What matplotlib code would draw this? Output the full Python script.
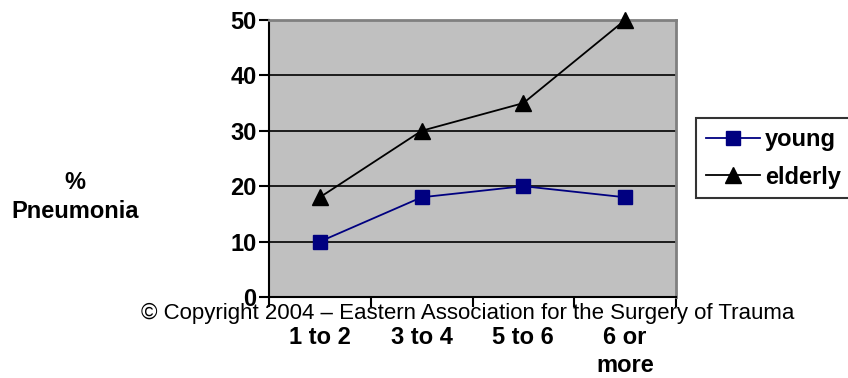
import matplotlib
matplotlib.use("Agg")
import matplotlib.pyplot as plt
import numpy as np

categories = ["1 to 2", "3 to 4", "5 to 6", "6 or\nmore"]
young = [10, 18, 20, 18]
elderly = [18, 30, 35, 50]
y_ticks = [0, 10, 20, 30, 40, 50]

plt.rcParams["font.family"] = ["Liberation Sans", "DejaVu Sans"]

fig = plt.figure(figsize=(8.48, 3.78), dpi=100)
ax = fig.add_axes([269 / 848, 1 - 297 / 378, 407 / 848, 277 / 378])
ax.set_facecolor("#C0C0C0")

x = np.arange(len(categories))
ax.set_xlim(-0.5, len(categories) - 0.5)
ax.set_ylim(0, 50)

for v in y_ticks[1:-1]:
    ax.axhline(v, color="black", lw=1.2, zorder=1)

ax.plot(x, young, color="#000080", lw=1.3, marker="s", ms=10,
        markerfacecolor="#000080", markeredgecolor="#000080", label="young", zorder=3, clip_on=False)
ax.plot(x, elderly, color="black", lw=1.3, marker="^", ms=11,
        markerfacecolor="black", markeredgecolor="black", label="elderly", zorder=3, clip_on=False)

ax.set_yticks(y_ticks)
ax.set_yticklabels([str(v) for v in y_ticks], fontsize=17, fontweight="bold")
ax.tick_params(axis="y", direction="out", length=7, width=1.5, pad=2)

ax.set_xticks(np.arange(-0.5, len(categories), 1.0))
ax.set_xticklabels([])
ax.tick_params(axis="x", direction="out", length=7, width=1.5)
for xi, lab in zip(x, categories):
    ax.text(xi, -0.104, lab, transform=ax.get_xaxis_transform(), ha="center", va="top",
            fontsize=17, fontweight="bold", linespacing=1.3)

for side in ("left", "bottom"):
    ax.spines[side].set_color("black")
    ax.spines[side].set_linewidth(1.5)
for side in ("top", "right"):
    ax.spines[side].set_color("#808080")
    ax.spines[side].set_linewidth(2)

fig.text(75 / 848, 1 - 197 / 378, "%\nPneumonia", ha="center", va="center",
         fontsize=17, fontweight="bold", linespacing=1.3)

fig.text(468 / 848, 1 - 313 / 378, "\u00a9 Copyright 2004 \u2013 Eastern Association for the Surgery of Trauma",
         ha="center", va="center", fontsize=16, zorder=5)

leg = fig.legend(loc="upper left", bbox_to_anchor=(696 / 848, 1 - 118 / 378),
                 prop={"weight": "bold", "size": 17}, frameon=True, fancybox=False,
                 edgecolor="black", handlelength=2.3, handletextpad=0.2,
                 borderpad=0.42, labelspacing=0.62, borderaxespad=0)
leg.get_frame().set_linewidth(1.5)

fig.savefig("out.png", dpi=100)
